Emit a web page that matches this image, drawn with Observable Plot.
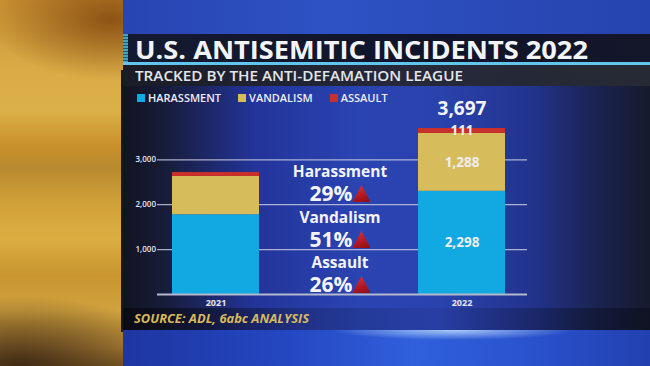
<!DOCTYPE html>
<html><head><meta charset="utf-8">
<script src="https://cdn.jsdelivr.net/npm/d3@7"></script>
<script src="https://cdn.jsdelivr.net/npm/@observablehq/plot@0.6"></script>
<style>
html,body{margin:0;padding:0;}
body{width:650px;height:366px;overflow:hidden;position:relative;font-family:"Open Sans",sans-serif;background:#1f3aa8;}
.abs{position:absolute;}
#gold{left:0;top:0;width:123px;height:366px;
 background:
  radial-gradient(ellipse 120px 60px at 110px 20px, rgba(120,60,10,0.75), rgba(120,60,10,0) 100%),
  radial-gradient(ellipse 160px 70px at 20px 366px, rgba(60,40,20,0.95), rgba(60,40,20,0) 100%),
  linear-gradient(180deg,#c99032 0%,#d8ab45 18%,#dcb048 30%,#c8902a 40%,#b88a30 46%,#d0a038 55%,#dcae42 65%,#c9962f 75%,#d0a23e 85%,#b88a38 95%,#8a6428 100%);}
#goldedge{left:121px;top:70px;width:4px;height:262px;background:#1a1a1c;}
#topblue{left:123px;top:0;width:527px;height:34px;
 background:linear-gradient(90deg,#2845b2 0%,#2e52c4 40%,#2a4ab8 70%,#2644ae 100%);}
#titlebar{left:123px;top:34px;width:527px;height:28px;background:linear-gradient(90deg,#141a30,#10142a 60%,#14162a);}
#stripe{left:123px;top:34px;width:5px;height:28px;background:repeating-linear-gradient(180deg,#3aa6c8 0 2px,#1c5a78 2px 3px);}
#blueline{left:123px;top:62px;width:527px;height:3px;background:#62c6ec;}
#subband{left:123px;top:65px;width:527px;height:21px;background:linear-gradient(90deg,#1a1c26,#24283a 50%,#262a34);}
#panel{left:123px;top:86px;width:527px;height:244px;
 background:linear-gradient(90deg,#121420 0%,#171c3a 8%,#23349a 25%,#2a44b2 45%,#2a42ae 60%,#22338c 78%,#1a2350 90%,#161a2c 100%);}
#srcband{left:123px;top:308px;width:527px;height:22px;background:linear-gradient(90deg,rgba(10,10,20,0.85),rgba(20,30,80,0.35) 35%,rgba(20,30,80,0.1) 60%,rgba(10,14,30,0.6));}
#bottom{left:123px;top:330px;width:527px;height:36px;
 background:radial-gradient(ellipse 120px 10px at 330px 0px, rgba(200,230,255,0.8), rgba(120,170,255,0) 100%),
 linear-gradient(90deg,#1e36a0 0%,#2446c0 30%,#3060dc 55%,#2a54d0 75%,#2240b0 100%);}
#title{left:135px;top:33px;color:#f3f4f8;font-weight:700;font-size:25.5px;line-height:32px;white-space:nowrap;transform-origin:left center;}
#subtitle{left:135px;top:66px;color:#e4e6ec;font-weight:600;font-size:14px;line-height:20px;white-space:nowrap;transform-origin:left center;}
#legend{left:137px;top:90px;display:flex;align-items:center;color:#eceef4;font-weight:600;font-size:11px;line-height:16px;white-space:nowrap;}
#legend .item{display:flex;align-items:center;margin-right:17px;}
#legend .sw{width:8px;height:8px;margin-right:3px;}
#source{left:134px;top:310px;color:#d8b95e;font-weight:700;font-style:italic;font-size:12.5px;line-height:18px;white-space:nowrap;transform-origin:left center;}
#chart{left:123px;top:88px;}
.pct{position:absolute;width:120px;text-align:center;color:#f4f4f8;font-weight:700;white-space:nowrap;}
.pct .lab{font-size:15.5px;line-height:16px;height:16px;}
.pct .num{font-size:21px;line-height:22px;height:22px;margin-top:3px;display:flex;justify-content:center;align-items:flex-end;}
.tri{width:18px;height:17px;margin-left:0px;margin-bottom:2px;clip-path:polygon(50% 0,100% 100%,0 100%);background:linear-gradient(160deg,#e8343a,#a8141e 70%,#8a1018);}
</style></head><body>
<div id="gold" class="abs"></div>
<div id="goldedge" class="abs"></div>
<div id="topblue" class="abs"></div>
<div id="titlebar" class="abs"></div>
<div id="stripe" class="abs"></div>
<div id="blueline" class="abs"></div>
<div id="subband" class="abs"></div>
<div id="panel" class="abs"></div>
<div id="srcband" class="abs"></div>
<div id="bottom" class="abs"></div>
<div id="title" class="abs">U.S. ANTISEMITIC INCIDENTS 2022</div>
<div id="subtitle" class="abs">TRACKED BY THE ANTI-DEFAMATION LEAGUE</div>
<div id="legend" class="abs"></div>
<div id="chart" class="abs"></div>
<div id="pcts"></div>
<div id="source" class="abs">SOURCE: ADL, 6abc ANALYSIS</div>
<script>
// ---- data ----
const years = ["2021", "2022"];
const categories = ["Harassment", "Vandalism", "Assault"];
const harassment = [1776, 2298];
const vandalism = [853, 1288];
const assault = [88, 111];
const colors = ["#12a8e2", "#d7bc5c", "#c9302c"];
const yTicks = [1000, 2000, 3000];

const series = [harassment, vandalism, assault];
const table = years.flatMap((year, i) => categories.map((category, j) => ({year, category, value: series[j][i]})));
const totals = years.map((year, i) => ({year, total: series.reduce((s, a) => s + a[i], 0)}));
const fmt = d3.format(",");
const last = years[years.length - 1];

// legend
const legend = document.getElementById("legend");
categories.forEach((c, j) => {
  const it = document.createElement("div");
  it.className = "item";
  it.innerHTML = `<div class="sw" style="background:${colors[j]}"></div><span>${c.toUpperCase()}</span>`;
  legend.appendChild(it);
});

// chart
const plot = Plot.plot({
  width: 527,
  height: 226,
  marginLeft: 34,
  marginRight: 123,
  marginTop: 26.4,
  marginBottom: 20,
  style: {background: "transparent", color: "#e6e8f0", fontFamily: "Open Sans", overflow: "visible"},
  x: {domain: years, paddingInner: 0.648, paddingOuter: 0.073, align: 0.39, label: null},
  y: {domain: [0, 4000], label: null},
  color: {domain: categories, range: colors},
  marks: [
    Plot.gridY(yTicks, {stroke: "#c4c8dc", strokeOpacity: 0.85, strokeWidth: 1.3}),
    Plot.barY(table, {x: "year", y: "value", fill: "category", z: "category", order: categories}),
    Plot.ruleY([0], {stroke: "#b4b8cc", strokeWidth: 2}),
    Plot.axisY(yTicks, {tickSize: 0, tickPadding: 1.5, fontSize: 8, fontWeight: 600, tickFormat: fmt, label: null}),
    Plot.axisX({tickSize: 0, tickPadding: 5, fontSize: 9, fontWeight: 700, label: null}),
    Plot.text(table.filter(d => d.year === last), Plot.stackY({x: "year", y: "value", z: "category", order: categories,
      text: d => fmt(d.value), fill: "#f0eef0", fontSize: 13.5, fontWeight: 700})),
    Plot.text(totals.filter(d => d.year === last), {x: "year", y: "total", text: d => fmt(d.total),
      dy: -20, fill: "#f4f4f8", fontSize: 19, fontWeight: 700})
  ]
});
document.getElementById("chart").appendChild(plot);

// percent change annotations
const pctTops = [163, 209, 254];
const pcts = document.getElementById("pcts");
categories.forEach((c, j) => {
  const change = Math.round((series[j][1] / series[j][0] - 1) * 100);
  const d = document.createElement("div");
  d.className = "pct";
  d.style.left = (340 - 60) + "px";
  d.style.top = pctTops[j] + "px";
  d.innerHTML = `<div class="lab">${c}</div><div class="num"><span>${change}%</span><div class="tri"></div></div>`;
  pcts.appendChild(d);
});

// fit text widths
function fit(id, w) {
  const el = document.getElementById(id);
  const r = el.getBoundingClientRect().width;
  el.style.transform = `scaleX(${w / r})`;
}
fit("title", 453);
fit("subtitle", 328);
fit("source", 175);
</script>
</body></html>
